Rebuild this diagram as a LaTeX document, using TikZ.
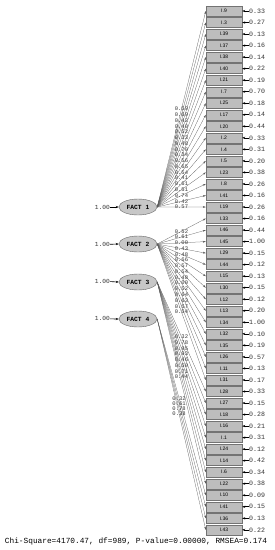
\documentclass[tikz,border=0pt]{standalone}
\usepackage{fontspec}
\newfontfamily\lismono{Liberation Mono}
\newfontfamily\lissans{Liberation Sans}
\usetikzlibrary{arrows.meta, shapes.geometric}

\begin{document}
\begin{tikzpicture}[
  x=1pt, y=-1pt,
  item/.style={rectangle, draw=black!55, fill=black!26, minimum width=36pt, minimum height=10pt,
               inner sep=0pt, font=\lissans\fontsize{5}{5}\selectfont},
  fact/.style={ellipse, draw=black!60, fill=black!22, minimum width=38pt, minimum height=16pt,
               inner sep=0pt, font=\lismono\bfseries\fontsize{6.3}{7}\selectfont},
  errv/.style={anchor=west, inner sep=0pt, text=black!80, font=\lismono\fontsize{6.6}{7}\selectfont},
  varv/.style={anchor=east, inner sep=0pt, text=black!80, font=\lismono\fontsize{6.2}{7}\selectfont},
  lbl/.style={inner sep=0pt, text=black!80, font=\lismono\fontsize{5.5}{6}\selectfont},
  arr/.style={-{Stealth[length=3pt, width=2.2pt]}, line width=0.6pt},
  load/.style={-{Stealth[length=3pt, width=1.8pt]}, line width=0.25pt, draw=black!65}
]
\useasboundingbox (0,0) rectangle (275,550);
% observed items (right column) with their error variances
\foreach \nm [count=\i from 0] in {9,3,39,37,38,40,21,7,25,17,20,2,4,5,23,8,41,19,33,46,
    45,29,44,15,30,12,13,34,32,35,26,11,31,28,27,18,16,1,24,14,6,22,10,41,36,43}
  \node[item] (x\i) at (224,11+\i*11.53) {I.\nm};
\foreach \ev [count=\i from 0] in {0.33,0.27,0.13,0.16,0.14,0.22,0.19,0.70,0.18,0.14,0.44,0.33,
    0.31,0.20,0.38,0.26,0.16,0.26,0.16,0.44,1.00,0.15,0.12,0.13,0.15,0.12,0.20,1.00,0.10,0.19,
    0.57,0.13,0.17,0.33,0.15,0.28,0.21,0.31,0.12,0.42,0.34,0.38,0.09,0.15,0.13,0.22}
{
  \node[errv] (e\i) at (249,11+\i*11.53) {\ev};
  \draw[arr] (e\i.west) -- (x\i.east);
}
% latent factors and their fixed variances
\node[fact] (f1) at (138,207) {FACT 1};
\node[fact] (f2) at (138,244) {FACT 2};
\node[fact] (f3) at (138,282) {FACT 3};
\node[fact] (f4) at (138,319) {FACT 4};
\foreach \f in {1,...,4}
{
  \node[varv] (v\f) at (110,{207+(\f-1)*37.3}) {1.00};
  \draw[arr] (v\f.east) -- (f\f.west);
}
% loadings
\foreach \k/\ld in {0/0.59,1/0.69,2/0.42,3/0.40,4/0.52,5/0.33,6/0.48,7/0.70,8/0.34,9/0.56,
    10/0.65,11/0.54,12/0.41,13/0.61,14/0.51,15/0.74,16/0.42,17/0.57}
  \draw[load] (f1.east) -- node[lbl, pos=0.5] {\ld} (x\k.west);
\foreach \k/\ld in {18/0.52,19/0.61,20/0.00,21/0.43,22/0.48,23/0.66,24/0.57,25/0.54,26/0.48,
    27/0.00,28/0.52,29/0.64,30/0.63,31/0.57,32/0.54}
  \draw[load] (f2.east) -- node[lbl, pos=0.5] {\ld} (x\k.west);
\foreach \k/\ld in {33/0.32,34/0.78,35/0.95,36/0.93,37/0.46,38/0.50,39/0.71,40/0.44}
  \draw[load] (f3.east) -- node[lbl, pos=0.5] {\ld} (x\k.west);
\draw[load] (f3.east) -- (x41.west);
\foreach \k/\ld in {42/0.32,43/0.61,44/0.78,45/0.38}
  \draw[load] (f4.east) -- node[lbl, pos=0.45] {\ld} (x\k.west);
% fit statistics
\node[inner sep=0pt, font=\lismono\fontsize{7.8}{9}\selectfont] (fit) at (136,541)
  {Chi-Square=4170.47, df=989, P-value=0.00000, RMSEA=0.174};
\end{tikzpicture}
\end{document}
